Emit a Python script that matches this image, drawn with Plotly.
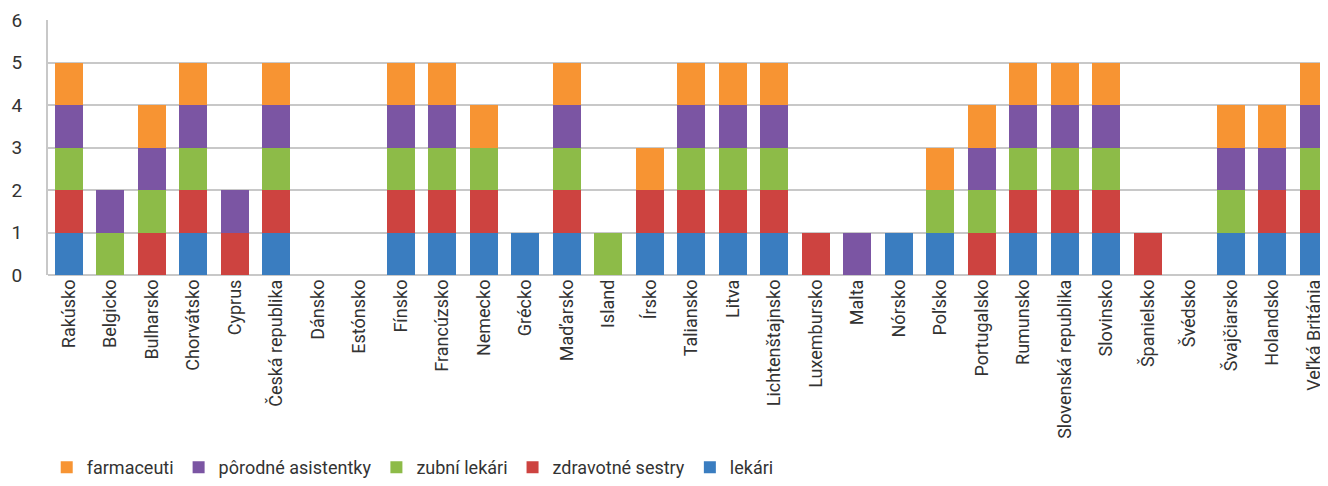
import plotly.graph_objects as go

countries = ["Rakúsko", "Belgicko", "Bulharsko", "Chorvátsko", "Cyprus", "Česká republika",
             "Dánsko", "Estónsko", "Fínsko", "Francúzsko", "Nemecko", "Grécko", "Maďarsko",
             "Island", "Írsko", "Taliansko", "Litva", "Lichtenštajnsko", "Luxembursko", "Malta",
             "Nórsko", "Poľsko", "Portugalsko", "Rumunsko", "Slovenská republika", "Slovinsko",
             "Španielsko", "Švédsko", "Švajčiarsko", "Holandsko", "Veľká Británia"]

lekari =      [1,0,0,1,0,1,0,0,1,1,1,1,1,0,1,1,1,1,0,0,1,1,0,1,1,1,0,0,1,1,1]
sestry =      [1,0,1,1,1,1,0,0,1,1,1,0,1,0,1,1,1,1,1,0,0,0,1,1,1,1,1,0,0,1,1]
zubni =       [1,1,1,1,0,1,0,0,1,1,1,0,1,1,0,1,1,1,0,0,0,1,1,1,1,1,0,0,1,0,1]
porodne =     [1,1,1,1,1,1,0,0,1,1,0,0,1,0,0,1,1,1,0,1,0,0,1,1,1,1,0,0,1,1,1]
farmaceuti =  [1,0,1,1,0,1,0,0,1,1,1,0,1,0,1,1,1,1,0,0,0,1,1,1,1,1,0,0,1,1,1]

series = [
    ("lekári", lekari, "#3a7dc0"),
    ("zdravotné sestry", sestry, "#cd4340"),
    ("zubní lekári", zubni, "#8dbb48"),
    ("pôrodné asistentky", porodne, "#7b55a3"),
    ("farmaceuti", farmaceuti, "#f79433"),
]

fig = go.Figure()
for name, vals, col in series:
    fig.add_trace(go.Bar(x=countries, y=vals, name=name, marker=dict(color=col, line=dict(width=0))))

fig.update_layout(
    barmode="stack",
    bargap=0.33,
    width=1320, height=478,
    margin=dict(l=40, r=0, t=12, b=206),
    plot_bgcolor="white", paper_bgcolor="white",
    font=dict(family="Roboto", size=18, color="#333333"),
    legend=dict(orientation="h", traceorder="reversed", x=-0.001, xanchor="left",
                y=-0.757, yanchor="middle", font=dict(size=18, color="#333333"),
                itemwidth=30, tracegroupgap=0),
    xaxis=dict(range=[-0.5, 30.34], tickangle=-90, showgrid=False, automargin=False,
               showline=False, ticks="", tickfont=dict(size=18, color="#333333")),
    yaxis=dict(range=[0, 6], dtick=1, showgrid=True, gridcolor="#c8c8c8", gridwidth=2,
               showline=True, linecolor="#c8c8c8", linewidth=2, zeroline=True, automargin=False,
               zerolinecolor="#c8c8c8", zerolinewidth=2, ticks="",
               tickfont=dict(size=19, color="#333333"), ticklabelstandoff=20),
)

fig.write_html("out.html")
